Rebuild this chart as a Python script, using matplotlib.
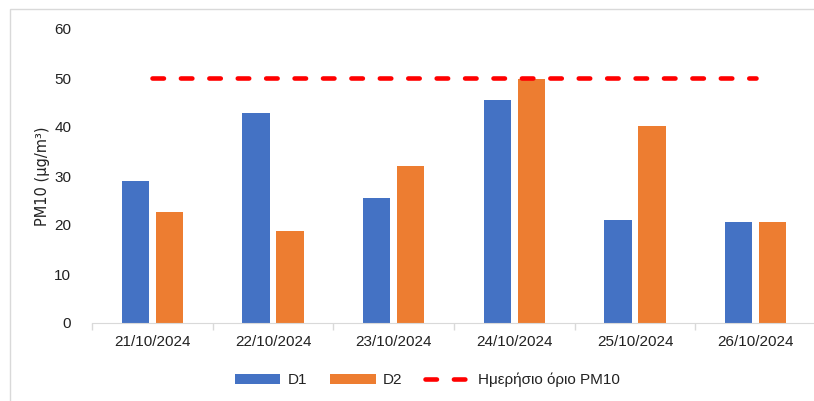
import matplotlib.pyplot as plt
import numpy as np
from matplotlib.patches import Rectangle

dates = ['21/10/2024', '22/10/2024', '23/10/2024', '24/10/2024', '25/10/2024', '26/10/2024']
d1 = [29.0, 42.9, 25.5, 45.6, 21.0, 20.6]
d2 = [22.7, 18.8, 32.0, 49.8, 40.3, 20.7]
limit = [50, 50, 50, 50, 50, 50]

plt.rcParams['font.family'] = ['Liberation Sans', 'DejaVu Sans']

fig = plt.figure(figsize=(8.14, 4.01), dpi=100)
ax = fig.add_axes([92 / 814, 1 - 323 / 401, 724 / 814, 294 / 401])

# chart-area border
fig.patches.append(Rectangle((10 / 814, -0.1), 1.2, 1 - 9 / 401 + 0.1, transform=fig.transFigure,
                             facecolor='none', edgecolor='#d9d9d9', linewidth=1))

x = np.arange(len(dates))
w = 0.224
b1 = ax.bar(x - 0.141, d1, w, color='#4472C4', label='D1')
b2 = ax.bar(x + 0.141, d2, w, color='#ED7D31', label='D2')
ln, = ax.plot(x, limit, color='#FF0000', linewidth=3.3, linestyle=(0, (2.5, 3.7)),
              dash_capstyle='round', label='Ημερήσιο όριο PM10')

ax.set_xlim(-0.5, 5.5)
ax.set_ylim(0, 60)
ax.set_yticks(range(0, 61, 10))
ax.tick_params(axis='y', length=0, labelsize=11, pad=15, labelcolor='#222222')

ax.set_xticks(np.arange(-0.5, 6, 1))
ax.set_xticklabels([])
ax.set_xticks(x, minor=True)
ax.set_xticklabels(dates, minor=True, fontsize=11, color='#222222')
ax.tick_params(axis='x', which='major', length=5, color='#d9d9d9', width=1)
ax.tick_params(axis='x', which='minor', length=0, pad=9)

for s in ['top', 'right', 'left']:
    ax.spines[s].set_visible(False)
ax.spines['bottom'].set_color('#d9d9d9')

ax.set_ylabel('PM10 (μg/m³)', family='DejaVu Sans', fontsize=10.5, color='#222222', labelpad=3)

fig.legend([b1, b2, ln], ['D1', 'D2', 'Ημερήσιο όριο PM10'], loc='center',
           bbox_to_anchor=(427 / 814, 1 - 380 / 401), ncol=3, frameon=False,
           fontsize=11, handlelength=3.0, handleheight=0.6, columnspacing=1.5,
           handletextpad=0.45, labelcolor='#222222')

fig.savefig('out.png', dpi=100)
